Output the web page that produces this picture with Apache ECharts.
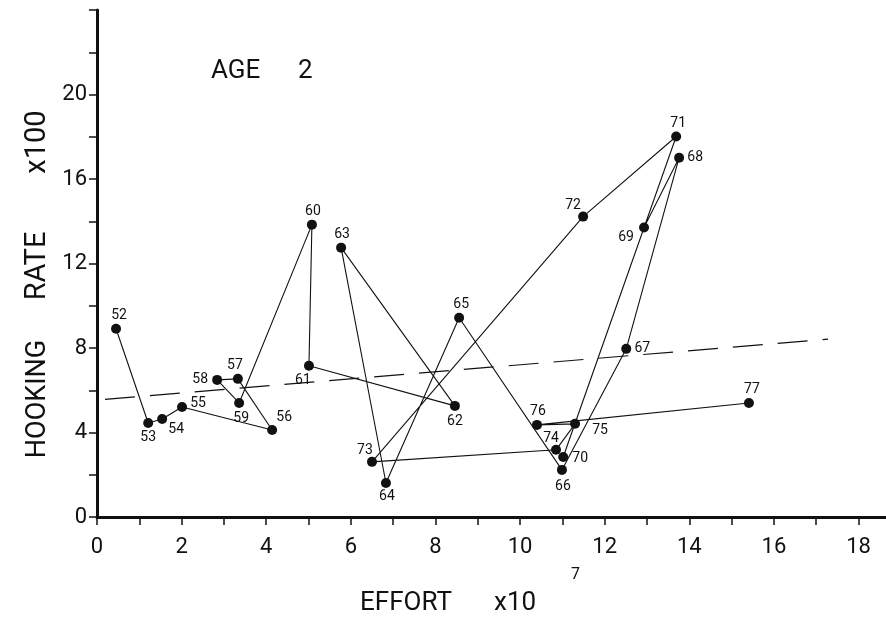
<!DOCTYPE html>
<html>
<head>
<meta charset="utf-8">
<script src="https://cdn.jsdelivr.net/npm/echarts@6/dist/echarts.min.js"></script>
<style>
    html, body { margin: 0; padding: 0; background: #fff; }
    #chart { width: 886px; height: 625px; }
</style>
</head>
<body>
<div id="chart"></div>
<script>
// years (labels of each point), joined in this order
const years = ['52', '53', '54', '55', '56', '57', '58', '59', '60', '61', '62', '63', '64',
    '65', '66', '67', '68', '69', '70', '71', '72', '73', '74', '75', '76', '77']
// effort x10^7
const effort = [0.45, 1.21, 1.54, 2.01, 4.14, 3.33, 2.84, 3.36, 5.08, 5.01, 8.46, 5.77, 6.83,
    8.56, 10.99, 12.51, 13.76, 12.93, 11.02, 13.69, 11.49, 6.50, 10.85, 11.30, 10.40, 15.41]
// hooking rate x100
const rate = [8.91, 4.45, 4.64, 5.21, 4.12, 6.54, 6.49, 5.40, 13.84, 7.16, 5.26, 12.75, 1.61,
    9.43, 2.23, 7.96, 17.01, 13.70, 2.84, 18.01, 14.22, 2.61, 3.18, 4.41, 4.36, 5.40]
// dashed regression line end points
const trendX = [0.19, 17.28]
const trendY = [5.57, 8.42]
const xTicks = [0, 2, 4, 6, 8, 10, 12, 14, 16, 18]
const yTicks = [0, 4, 8, 12, 16, 20]

// label centre offset (px) from its dot
const labelOff = {
    '52': [3, -13], '53': [0, 15], '54': [14, 11], '55': [16, -3], '56': [12, -12],
    '57': [-3, -13], '58': [-17, 0], '59': [2, 16], '60': [1, -13], '61': [-6, 15],
    '62': [0, 16], '63': [1, -13], '64': [1, 14], '65': [2, -13], '66': [1, 17],
    '67': [16, 0], '68': [16, 0], '69': [-18, 10], '70': [17, 1], '71': [2, -13],
    '72': [-10, -11], '73': [-7, -11], '74': [-5, -11], '75': [25, 7], '76': [1, -13],
    '77': [3, -13]
}

const FONT = 'Roboto'
const R = 5 // half symbol size

let chart = echarts.init(document.getElementById('chart'))
let option = {
    animation: false,
    backgroundColor: '#fff',
    grid: {
        left: 97,
        right: 0,
        top: 10,
        bottom: 108
    },
    xAxis: {
        type: 'value',
        min: 0,
        max: 18.65,
        interval: 1,
        axisLine: { lineStyle: { color: '#111', width: 3 } },
        axisTick: { length: 8, lineStyle: { color: '#111', width: 1.5 } },
        axisLabel: {
            color: '#111',
            fontFamily: FONT,
            fontSize: 22,
            margin: 19,
            showMaxLabel: false,
            formatter: (v) => xTicks.includes(v) ? String(v) : ''
        },
        splitLine: { show: false }
    },
    yAxis: {
        type: 'value',
        min: 0,
        max: 24,
        interval: 2,
        axisLine: { lineStyle: { color: '#111', width: 3 } },
        axisTick: { length: 8, lineStyle: { color: '#111', width: 1.5 } },
        axisLabel: {
            color: '#111',
            fontFamily: FONT,
            fontSize: 22,
            margin: 10,
            formatter: (v) => yTicks.includes(v) ? String(v) : ''
        },
        splitLine: { show: false }
    },
    graphic: [
        {
            type: 'text',
            left: 211,
            top: 58,
            style: { text: 'AGE', fontFamily: FONT, fontSize: 26, fill: '#111' }
        },
        {
            type: 'text',
            left: 298,
            top: 58,
            style: { text: '2', fontFamily: FONT, fontSize: 26, fill: '#111' }
        },
        {
            type: 'text',
            x: 38, y: 399,
            rotation: Math.PI / 2,
            style: { text: 'HOOKING', fontFamily: FONT, fontSize: 27, fill: '#111', align: 'center', verticalAlign: 'middle' }
        },
        {
            type: 'text',
            x: 38, y: 266,
            rotation: Math.PI / 2,
            style: { text: 'RATE', fontFamily: FONT, fontSize: 29, fill: '#111', align: 'center', verticalAlign: 'middle' }
        },
        {
            type: 'text',
            x: 38, y: 142,
            rotation: Math.PI / 2,
            style: { text: 'x100', fontFamily: FONT, fontSize: 29, fill: '#111', align: 'center', verticalAlign: 'middle' }
        },
        {
            type: 'text',
            left: 360,
            top: 590,
            style: { text: 'EFFORT', fontFamily: FONT, fontSize: 26, fill: '#111' }
        },
        {
            type: 'text',
            left: 494,
            top: 590,
            style: { text: 'x10', fontFamily: FONT, fontSize: 26, fill: '#111' }
        },
        {
            type: 'text',
            left: 571,
            top: 567,
            style: { text: '7', fontFamily: FONT, fontSize: 16, fill: '#111' }
        }
    ],
    series: [
        {
            type: 'line',
            data: [[trendX[0], trendY[0]], [trendX[1], trendY[1]]],
            symbol: 'none',
            lineStyle: { color: '#111', width: 1.2, type: [30, 15] },
            silent: true,
            z: 1
        },
        {
            type: 'line',
            data: years.map((y, i) => ({
                name: y,
                value: [effort[i], rate[i]],
                label: { position: [R + labelOff[y][0], R + labelOff[y][1]] }
            })),
            symbol: 'circle',
            symbolSize: 2 * R,
            itemStyle: { color: '#111' },
            lineStyle: { color: '#111', width: 1.1 },
            label: {
                show: true,
                formatter: '{b}',
                color: '#111',
                fontFamily: FONT,
                fontSize: 14,
                align: 'center',
                verticalAlign: 'middle'
            },
            labelLayout: { hideOverlap: false },
            z: 2
        }
    ]
}
chart.setOption(option)
window.addEventListener('resize', () => {
    chart.resize()
})
</script>
</body>
</html>
